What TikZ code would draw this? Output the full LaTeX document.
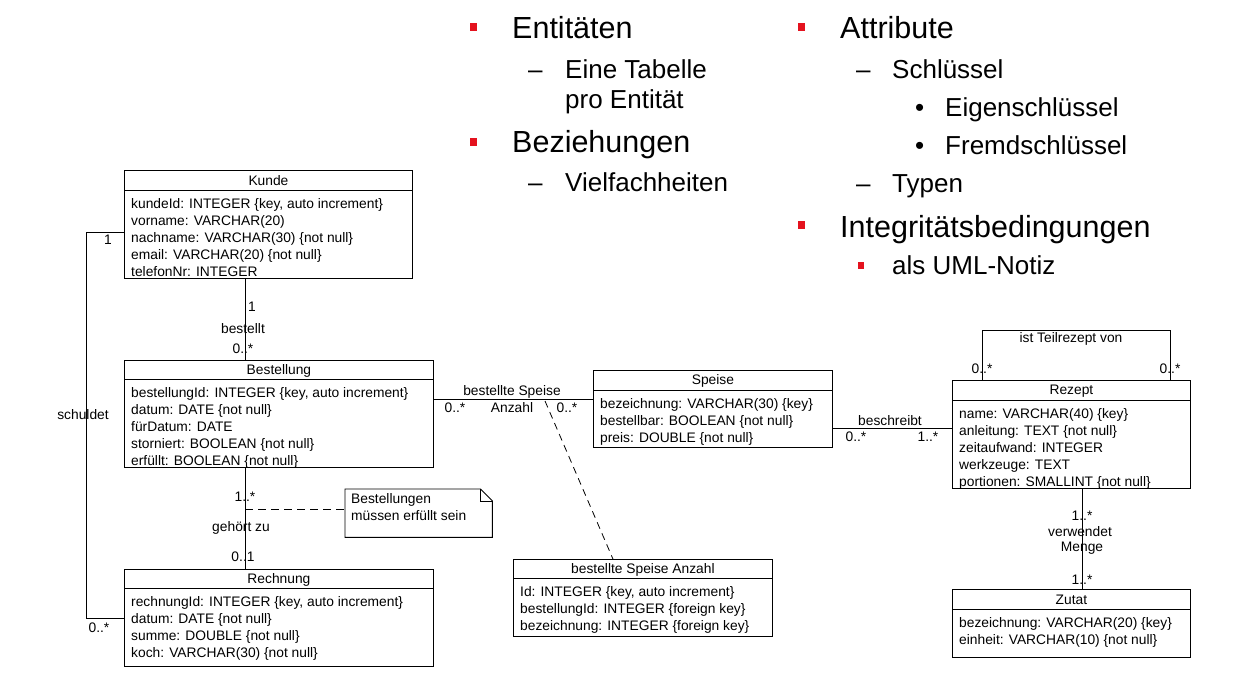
\documentclass[tikz,border=0pt]{standalone}
\usepackage{fontspec}
\setmainfont{Liberation Sans}
\usetikzlibrary{calc}
\definecolor{bulletred}{RGB}{228,18,30}
\tikzset{
  umlline/.style={line width=0.9pt, black},
  clsbox/.style={draw, line width=0.9pt, inner sep=0pt, fill=white},
  clstitle/.style={font=\fontsize{13.8}{17}\selectfont, inner sep=0pt},
  clsattr/.style={font=\fontsize{13.8}{17}\selectfont, inner sep=0pt, align=left},
  lbl/.style={font=\fontsize{13.8}{17}\selectfont, inner sep=0pt},
  notedash/.style={line width=0.9pt, dash pattern=on 8pt off 5pt},
  assocdash/.style={line width=0.8pt, dash pattern=on 7pt off 5pt},
  bigitem/.style={font=\fontsize{30.5}{37}\selectfont, inner sep=0pt, anchor=base west},
  subitem/.style={font=\fontsize{26}{31}\selectfont, inner sep=0pt, anchor=base west},
  redsq/.style={fill=bulletred, draw=none, minimum width=7pt, minimum height=8.5pt, inner sep=0pt},
}
\newcommand{\UmlClass}[8]{%
  \node[clsbox, minimum width=#4pt, minimum height=#5pt, anchor=north west] (#1) at (#2,#3) {};
  \draw[umlline] ([yshift=-#6pt]#1.north west) -- ([yshift=-#6pt]#1.north east);
  \node[clstitle] (#1-title) at ([yshift=-#6pt/2-1pt]#1.north) {#7};
  \node[clsattr, anchor=north west] (#1-attrs) at ([xshift=7pt,yshift=-#6pt-6pt]#1.north west) {\strut #8};
}
\begin{document}
\begin{tikzpicture}[x=1pt,y=-1pt]
\useasboundingbox (0,0) rectangle (1245,679);
\fill[white] (0,0) rectangle (1245,679);

% ---------- bullet text ----------
\node[redsq] (sq1) at (473,27) {};
\node[bigitem] (t1) at (512,39) {Entitäten};
\node[subitem] (d1) at (528,79) {–};
\node[subitem] (t2) at (565,79) {Eine Tabelle};
\node[subitem] (t3) at (565,109) {pro Entität};
\node[redsq] (sq2) at (473,142) {};
\node[bigitem] (t4) at (512,153) {Beziehungen};
\node[subitem] (d2) at (528,192) {–};
\node[subitem] (t5) at (565,192) {Vielfachheiten};

\node[redsq] (sq3) at (801,27) {};
\node[bigitem] (t6) at (840,39) {Attribute};
\node[subitem] (d3) at (856,79) {–};
\node[subitem] (t7) at (892,79) {Schlüssel};
\node[subitem] (b1) at (915,117) {•};
\node[subitem] (t8) at (945,117) {Eigenschlüssel};
\node[subitem] (b2) at (915,155) {•};
\node[subitem] (t9) at (945,155) {Fremdschlüssel};
\node[subitem] (d4) at (856,193) {–};
\node[subitem] (t10) at (892,193) {Typen};
\node[redsq] (sq4) at (801,225) {};
\node[bigitem] (t11) at (840,237) {Integritätsbedingungen};
\node[redsq, minimum width=6pt, minimum height=7pt] (sq5) at (861,265) {};
\node[subitem] (t12) at (892,274) {als UML-Notiz};

% ---------- classes ----------
\UmlClass{kunde}{124}{170}{288}{108}{20}{Kunde}{kundeId: INTEGER \{key, auto increment\}\\vorname: VARCHAR(20)\\nachname: VARCHAR(30) \{not null\}\\email: VARCHAR(20) \{not null\}\\telefonNr: INTEGER}
\UmlClass{bestellung}{124}{360}{309}{107}{19}{Bestellung}{bestellungId: INTEGER \{key, auto increment\}\\datum: DATE \{not null\}\\fürDatum: DATE\\storniert: BOOLEAN \{not null\}\\erfüllt: BOOLEAN \{not null\}}
\UmlClass{rechnung}{124}{569}{309}{97}{19}{Rechnung}{rechnungId: INTEGER \{key, auto increment\}\\datum: DATE \{not null\}\\summe: DOUBLE \{not null\}\\koch: VARCHAR(30) \{not null\}}
\UmlClass{speise}{593}{370}{239}{77}{20}{Speise}{bezeichnung: VARCHAR(30) \{key\}\\bestellbar: BOOLEAN \{not null\}\\preis: DOUBLE \{not null\}}
\UmlClass{rezept}{952}{380}{238}{108}{20}{Rezept}{name: VARCHAR(40) \{key\}\\anleitung: TEXT \{not null\}\\zeitaufwand: INTEGER\\werkzeuge: TEXT\\portionen: SMALLINT \{not null\}}
\UmlClass{zutat}{952}{589}{238}{68}{20}{Zutat}{bezeichnung: VARCHAR(20) \{key\}\\einheit: VARCHAR(10) \{not null\}}
\UmlClass{assoc}{513}{559}{259}{77}{19}{bestellte Speise Anzahl}{Id: INTEGER \{key, auto increment\}\\bestellungId: INTEGER \{foreign key\}\\bezeichnung: INTEGER \{foreign key\}}

% ---------- note ----------
\node[minimum width=147pt, minimum height=48pt, inner sep=0pt, anchor=north west] (note) at (345,489) {};
\draw[umlline] (note.north west) -- ([xshift=-12pt]note.north east) -- ([yshift=-12pt]note.north east) -- (note.south east) -- (note.south west) -- cycle;
\draw[umlline] ([xshift=-12pt]note.north east) -- ([xshift=-12pt,yshift=-12pt]note.north east) -- ([yshift=-12pt]note.north east);
\node[clsattr, anchor=north west] (note-text) at ([xshift=6pt,yshift=-2pt]note.north west) {\strut Bestellungen\\müssen erfüllt sein};

% ---------- connectors ----------
% bestellt
\draw[umlline] ([xshift=121pt]kunde.south west) -- ([xshift=121pt]bestellung.north west);
\node[lbl] (m1) at (252,307) {1};
\node[lbl] (a1) at (243,329) {bestellt};
\node[lbl] (m2) at (243,349) {0..*};

% schuldet
\coordinate (schL) at (86,0);
\coordinate (kS) at ([yshift=-8pt]kunde.west);
\draw[umlline] (kS) -- (kS -| schL) -- (rechnung.west -| schL) -- (rechnung.west);
\node[lbl] (m3) at (108,240) {1};
\node[lbl] (a2) at (83,415) {schuldet};
\node[lbl] (m4) at (99,628) {0..*};

% gehoert zu
\draw[umlline] ([xshift=121pt]bestellung.south west) -- ([xshift=121pt]rechnung.north west);
\node[lbl] (m5) at (245,497) {1..*};
\node[lbl] (a3) at (241,528) {gehört zu};
\node[lbl] (m6) at (243,557) {0..1};
\coordinate (nd) at (245,509);
\draw[notedash] (nd) -- (nd -| note.west);

% bestellte Speise
\coordinate (bsY) at (0,399);
\draw[umlline] (bestellung.east |- bsY) -- (speise.west |- bsY);
\node[lbl] (a4) at (512,392) {bestellte Speise};
\node[lbl] (m7) at (455,408) {0..*};
\node[lbl] (a5) at (512,408) {Anzahl};
\node[lbl] (m8) at (567,408) {0..*};
\coordinate (bsM) at (545,401);
\draw[assocdash] (bsM) -- ([xshift=-30pt]assoc.north);

% beschreibt
\coordinate (srY) at (0,428);
\draw[umlline] (speise.east |- srY) -- (rezept.west |- srY);
\node[lbl] (a6) at (890,421) {beschreibt};
\node[lbl] (m9) at (856,437) {0..*};
\node[lbl] (m10) at (928,437) {1..*};

% ist Teilrezept von
\coordinate (selfY) at (0,330);
\coordinate (sa) at ([xshift=30pt]rezept.north west);
\coordinate (sb) at ([xshift=-20pt]rezept.north east);
\draw[umlline] (sa) -- (sa |- selfY) -- (sb |- selfY) -- (sb);
\node[lbl] (a7) at (1071,339) {ist Teilrezept von};
\node[lbl] (m11) at (982,369) {0..*};
\node[lbl] (m12) at (1170,369) {0..*};

% verwendet
\draw[umlline] ([xshift=11pt]rezept.south) -- ([xshift=11pt]zutat.north);
\node[lbl] (m13) at (1082,516) {1..*};
\node[lbl] (a8) at (1080,532) {verwendet};
\node[lbl] (m14) at (1082,580) {1..*};
\node[lbl] (a9) at (1082,548) {Menge};
\end{tikzpicture}
\end{document}
